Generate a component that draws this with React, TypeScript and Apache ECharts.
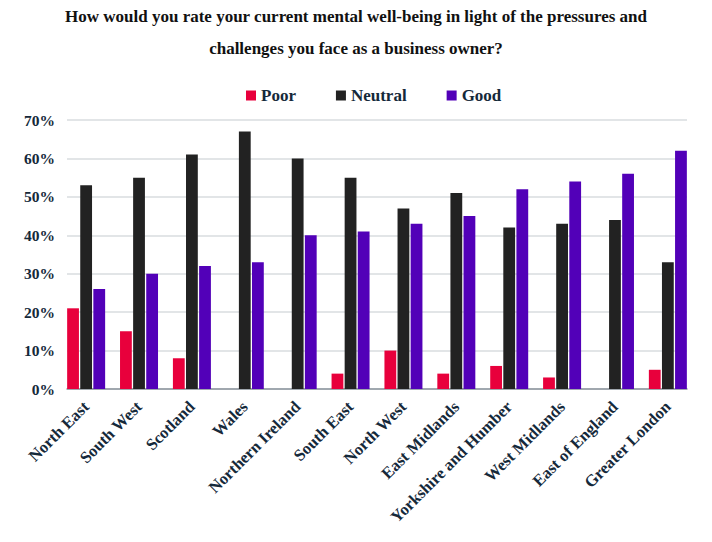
import React, { useEffect, useRef } from "react";
import * as echarts from "echarts";

const regions = [
  "North East",
  "South West",
  "Scotland",
  "Wales",
  "Northern Ireland",
  "South East",
  "North West",
  "East Midlands",
  "Yorkshire and Humber",
  "West Midlands",
  "East of England",
  "Greater London",
];

const poor = [21, 15, 8, 0, 0, 4, 10, 4, 6, 3, 0, 5];
const neutral = [53, 55, 61, 67, 60, 55, 47, 51, 42, 43, 44, 33];
const good = [26, 30, 32, 33, 40, 41, 43, 45, 52, 54, 56, 62];

const titleLines = [
  "How would you rate your current mental well-being in light of the pressures and",
  "challenges you face as a business owner?",
];

const FONT = "'Liberation Serif', 'DejaVu Serif', serif";
const TEXT = "#15293a";

export default function App() {
  const ref = useRef<HTMLDivElement>(null);

  useEffect(() => {
    if (!ref.current) return;
    const chart = echarts.init(ref.current, undefined, { renderer: "svg" });
    const bar = (name: string, data: number[], color: string) => ({
      name,
      type: "bar",
      xAxisIndex: 1,
      yAxisIndex: 1,
      data,
      barWidth: 11.8,
      barGap: "11%",
      itemStyle: { color },
    });
    chart.setOption({
      animation: false,
      backgroundColor: "#ffffff",
      title: {
        text: titleLines.join("\n"),
        left: "center",
        top: 0,
        padding: 0,
        textStyle: {
          fontFamily: FONT,
          fontWeight: "bold",
          fontSize: 17,
          color: "#111111",
          lineHeight: 32,
        },
      },
      legend: {
        top: 87,
        left: 246,
        padding: 0,
        itemWidth: 10,
        itemHeight: 10,
        itemGap: 40,
        icon: "rect",
        textStyle: { fontFamily: FONT, fontWeight: "bold", fontSize: 17, color: TEXT },
        data: ["Poor", "Neutral", "Good"],
      },
      // grid 0: frame with gridlines and baseline; grid 1: bars, whose outer
      // groups sit flush with the frame edges
      grid: [
        { left: 67, right: 25, top: 120, bottom: 153, containLabel: false },
        { left: 59.7, right: 17.7, top: 120, bottom: 153, containLabel: false },
      ],
      xAxis: [
        {
          gridIndex: 0,
          type: "category",
          data: regions,
          axisTick: { show: false },
          axisLabel: { show: false },
          axisLine: { lineStyle: { color: "#8a939c", width: 1.5 } },
        },
        {
          gridIndex: 1,
          type: "category",
          data: regions,
          axisTick: { show: false },
          axisLine: { show: false },
          axisLabel: {
            rotate: 45,
            interval: 0,
            margin: 15,
            fontFamily: FONT,
            fontWeight: "bold",
            fontSize: 16.5,
            color: TEXT,
          },
        },
      ],
      yAxis: [
        {
          gridIndex: 0,
          type: "value",
          min: 0,
          max: 70,
          interval: 10,
          axisLabel: {
            formatter: "{value}%",
            margin: 12,
            fontFamily: FONT,
            fontWeight: "bold",
            fontSize: 15.5,
            color: TEXT,
          },
          splitLine: { lineStyle: { color: "#d8dcdf", width: 1.5 } },
        },
        {
          gridIndex: 1,
          type: "value",
          min: 0,
          max: 70,
          interval: 10,
          axisLabel: { show: false },
          axisLine: { show: false },
          axisTick: { show: false },
          splitLine: { show: false },
        },
      ],
      series: [
        bar("Poor", poor, "#e8003c"),
        bar("Neutral", neutral, "#222222"),
        bar("Good", good, "#5200b8"),
      ],
    });
    return () => chart.dispose();
  }, []);

  return (
    <div
      ref={ref}
      style={{ position: "absolute", left: 0, top: 0, width: 712, height: 542 }}
    />
  );
}
